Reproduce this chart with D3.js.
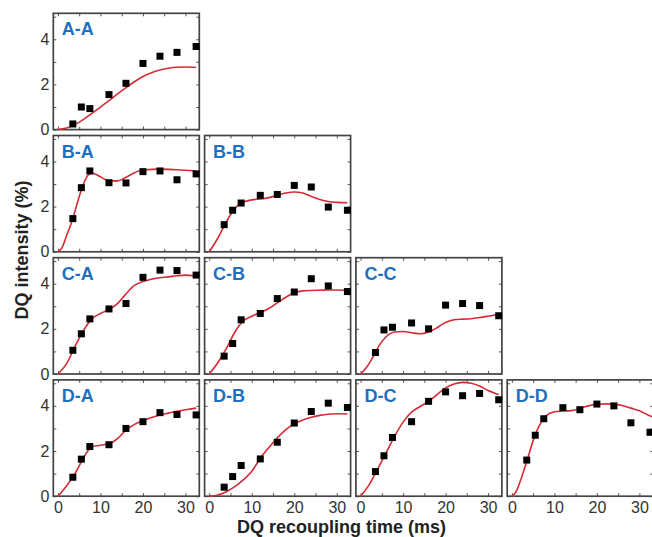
<!DOCTYPE html>
<html>
<head>
<meta charset="utf-8">
<script src="https://cdn.jsdelivr.net/npm/d3@7"></script>
<style>
  body { margin: 0; background: #fff; }
  svg { display: block; }
  text { font-family: "Liberation Sans", Arial, sans-serif; }
</style>
</head>
<body>
<svg id="chart" width="652" height="537"></svg>
<script>
// recoupling times of the measured points (ms)
var times = [3.5, 5.5, 7.5, 12, 16, 20, 24, 28, 32.5];

// measured DQ intensities (%)
var aaPts = [0.25, 1.0, 0.93, 1.55, 2.05, 2.93, 3.25, 3.42, 3.68];
var baPts = [1.47, 2.84, 3.58, 3.06, 3.05, 3.55, 3.58, 3.19, 3.45];
var bbPts = [1.2, 1.84, 2.16, 2.5, 2.54, 2.94, 2.87, 1.98, 1.84];
var caPts = [1.05, 1.78, 2.44, 2.88, 3.12, 4.28, 4.6, 4.58, 4.38];
var cbPts = [0.79, 1.35, 2.4, 2.68, 3.34, 3.63, 4.22, 3.9, 3.65];
var ccPts = [0.95, 1.95, 2.07, 2.26, 2.0, 3.05, 3.12, 3.03, 2.58];
var daPts = [0.84, 1.64, 2.2, 2.28, 3.0, 3.3, 3.7, 3.62, 3.6];
var dbPts = [0.4, 0.87, 1.36, 1.65, 2.39, 3.24, 3.75, 4.12, 3.93];
var dcPts = [1.09, 1.79, 2.6, 3.3, 4.2, 4.62, 4.45, 4.55, 4.27];
var ddPts = [1.6, 2.7, 3.43, 3.92, 3.83, 4.08, 4.0, 3.25, 2.83];

// simulated curves [time, intensity]
var aaFit = [[0,0],[2,0.07],[4,0.22],[6,0.45],[8,0.72],[10,1.0],[12,1.28],[14,1.58],[16,1.86],[18,2.12],[20,2.35],[22,2.52],[24,2.64],[26,2.72],[28,2.76],[30,2.77],[32.5,2.75]];
var baFit = [[0,0],[1,0.2],[2,0.7],[3,1.2],[4,1.8],[5,2.45],[6,3.0],[7,3.38],[8,3.48],[9,3.42],[10,3.32],[12,3.14],[14,3.14],[16,3.3],[18,3.5],[20,3.62],[24,3.66],[28,3.63],[32.5,3.58]];
var bbFit = [[0,0],[2,0.6],[4,1.32],[6,1.92],[8,2.2],[10,2.3],[12,2.34],[14,2.4],[16,2.5],[18,2.6],[20,2.65],[22,2.6],[24,2.45],[26,2.32],[28,2.23],[30,2.19],[32.5,2.17]];
var caFit = [[0,0],[2,0.45],[4,1.22],[6,1.92],[8,2.45],[10,2.68],[12,2.86],[14,3.12],[16,3.55],[18,3.92],[20,4.1],[22,4.2],[24,4.26],[26,4.3],[28,4.35],[30,4.38],[32.5,4.35]];
var cbFit = [[0,0],[2,0.5],[4,1.12],[6,1.85],[8,2.35],[10,2.56],[12,2.72],[14,2.9],[16,3.15],[18,3.4],[20,3.6],[22,3.68],[24,3.7],[26,3.71],[28,3.72],[30,3.72],[32.5,3.7]];
var ccFit = [[0,0],[1.5,0.32],[3,0.78],[4.5,1.3],[6,1.65],[8,1.86],[10,1.88],[12,1.83],[14,1.78],[16,1.86],[18,2.05],[20,2.28],[22,2.4],[24,2.43],[26,2.45],[28,2.5],[30,2.56],[32.5,2.64]];
var daFit = [[0,0],[2,0.45],[4,1.0],[6,1.7],[7,2.0],[8,2.18],[10,2.26],[12,2.32],[14,2.55],[16,2.92],[18,3.18],[20,3.35],[22,3.48],[24,3.6],[26,3.68],[28,3.76],[30,3.83],[32.5,3.9]];
var dbFit = [[0,0],[2,0.05],[4,0.2],[6,0.42],[8,0.72],[10,1.1],[12,1.68],[14,2.15],[16,2.58],[18,2.95],[20,3.2],[22,3.37],[24,3.5],[26,3.58],[28,3.63],[30,3.65],[32.5,3.64]];
var dcFit = [[0,0],[2,0.5],[4,1.2],[6,1.92],[8,2.65],[10,3.28],[12,3.72],[14,3.97],[16,4.2],[18,4.5],[20,4.8],[22,4.97],[24,5.04],[26,5.0],[28,4.88],[30,4.68],[32.5,4.5]];
var ddFit = [[0,0],[1,0.2],[2,0.68],[3,1.25],[4,1.85],[5,2.45],[6,2.95],[7,3.3],[8,3.55],[10,3.74],[12,3.77],[14,3.79],[16,3.89],[18,4.0],[20,4.07],[22,4.09],[24,4.07],[26,4.02],[28,3.9],[30,3.78],[32,3.6],[33.25,3.5]];

var xTicks = [0, 5, 10, 15, 20, 25, 30];
var yTicks = [0, 1, 2, 3, 4, 5];

var panels = [
  {name: 'A-A', pts: aaPts, fit: aaFit},
  {name: 'B-A', pts: baPts, fit: baFit},
  {name: 'B-B', pts: bbPts, fit: bbFit},
  {name: 'C-A', pts: caPts, fit: caFit},
  {name: 'C-B', pts: cbPts, fit: cbFit},
  {name: 'C-C', pts: ccPts, fit: ccFit},
  {name: 'D-A', pts: daPts, fit: daFit},
  {name: 'D-B', pts: dbPts, fit: dbFit},
  {name: 'D-C', pts: dcPts, fit: dcFit},
  {name: 'D-D', pts: ddPts, fit: ddFit}
];

var letters = ['A', 'B', 'C', 'D'];

var svg = d3.select('#chart');
var panelW = 146, panelH = 116.3;
var left0 = 53.3, top0 = 13.3, colStep = 151.3, rowStep = 122.2;

var x = d3.scaleLinear().domain([-1.1, 33.25]).range([0, panelW]);
var y = d3.scaleLinear().domain([0, 5.15]).range([panelH, 0]);

var line = d3.line()
  .x(function(d) { return x(d[0]); })
  .y(function(d) { return y(d[1]); })
  .curve(d3.curveMonotoneX);

function styleAxis(sel) {
  sel.select('.domain').remove();
  sel.selectAll('.tick line').attr('stroke', '#555').attr('stroke-width', 1);
  sel.selectAll('.tick text').attr('fill', '#333').style('font-size', '16px');
}

panels.forEach(function(p) {
  var r = letters.indexOf(p.name[0]);
  var c = letters.indexOf(p.name[2]);
  var g = svg.append('g')
    .attr('transform', 'translate(' + (left0 + c * colStep) + ',' + (top0 + r * rowStep) + ')');

  // inward ticks on all four sides
  g.append('g')
    .attr('transform', 'translate(0,' + panelH + ')')
    .call(d3.axisBottom(x).tickValues(xTicks).tickSizeInner(-3).tickSizeOuter(0).tickPadding(5)
      .tickFormat(function(d) { return (r === 3 && d % 10 === 0) ? d : ''; }))
    .call(styleAxis);
  g.append('g')
    .call(d3.axisTop(x).tickValues(xTicks).tickSizeInner(-3).tickSizeOuter(0).tickFormat(''))
    .call(styleAxis);
  g.append('g')
    .call(d3.axisLeft(y).tickValues(yTicks).tickSizeInner(-3).tickSizeOuter(0).tickPadding(4)
      .tickFormat(function(d) { return (c === 0 && d % 2 === 0 && d < 5) ? d : ''; }))
    .call(styleAxis);
  g.append('g')
    .attr('transform', 'translate(' + panelW + ',0)')
    .call(d3.axisRight(y).tickValues(yTicks).tickSizeInner(-3).tickSizeOuter(0).tickFormat(''))
    .call(styleAxis);

  g.append('rect')
    .attr('width', panelW).attr('height', panelH)
    .attr('fill', 'none').attr('stroke', '#444').attr('stroke-width', 1.7);

  g.append('path')
    .datum(p.fit)
    .attr('d', line)
    .attr('fill', 'none')
    .attr('stroke', '#d52b34')
    .attr('stroke-width', 1.6);

  g.selectAll('rect.pt')
    .data(p.pts)
    .enter().append('rect')
    .attr('class', 'pt')
    .attr('x', function(d, i) { return x(times[i]) - 3.5; })
    .attr('y', function(d) { return y(d) - 3.5; })
    .attr('width', 7).attr('height', 7)
    .attr('fill', '#000');

  g.append('text')
    .attr('x', 8.5).attr('y', 22)
    .attr('fill', '#1e6fc1')
    .style('font-size', '18px').style('font-weight', 'bold')
    .text(p.name);
});

svg.append('text')
  .attr('transform', 'translate(28,250) rotate(-90)')
  .attr('text-anchor', 'middle')
  .attr('fill', '#222')
  .style('font-size', '18px').style('font-weight', 'bold')
  .text('DQ intensity (%)');

svg.append('text')
  .attr('x', 237).attr('y', 533)
  .attr('fill', '#222')
  .style('font-size', '18px').style('font-weight', 'bold')
  .text('DQ recoupling time (ms)');
</script>
</body>
</html>
